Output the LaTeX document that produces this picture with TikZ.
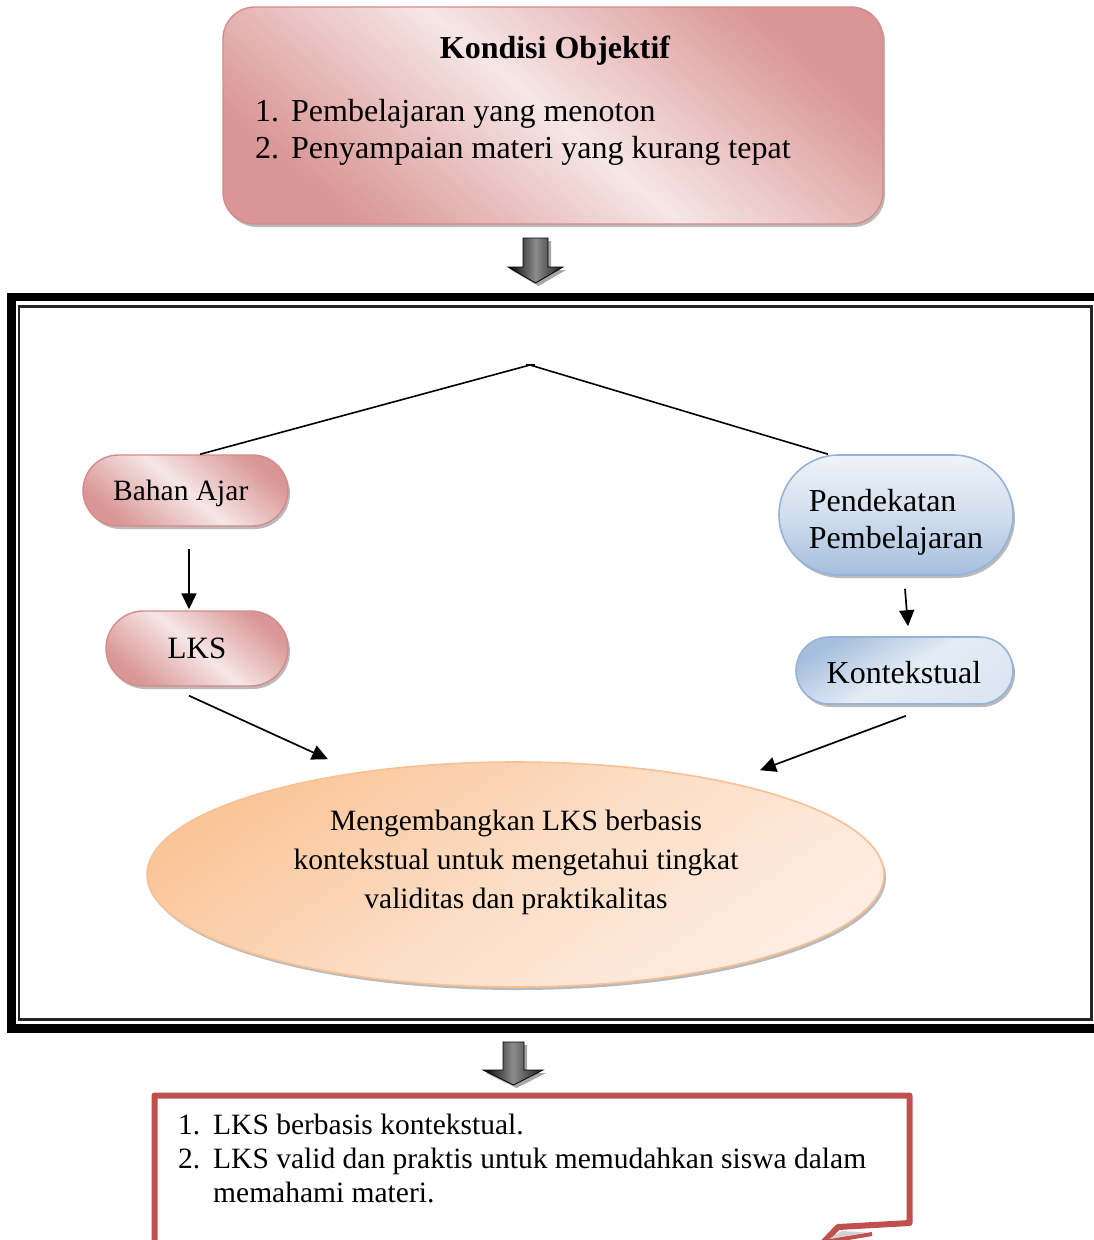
\documentclass[tikz,border=0pt]{standalone}
\usepackage{fontspec}
\setmainfont{Liberation Serif}
\usetikzlibrary{shapes.misc,shapes.geometric,shadows,arrows.meta}
\definecolor{pinkD}{HTML}{D99694}
\definecolor{pinkL}{HTML}{F6E6E6}
\definecolor{pinkB}{HTML}{D38C8B}
\definecolor{blueD}{HTML}{A7BFDE}
\definecolor{blueL}{HTML}{EEF3F9}
\definecolor{blueB}{HTML}{95B3D7}
\definecolor{orD}{HTML}{FAC090}
\definecolor{orL}{HTML}{FDEDE2}
\definecolor{orB}{HTML}{F7C194}
\definecolor{redB}{HTML}{C0504D}
\begin{document}
\begin{tikzpicture}[x=1pt,y=-1pt,
  fA/.style={font=\fontsize{32}{37}\selectfont},
  fB/.style={font=\fontsize{29.5}{34}\selectfont},
  fN/.style={font=\fontsize{31}{37}\selectfont},
  txt/.style={inner sep=0pt, anchor=base west},
  shad/.style={drop shadow={shadow xshift=2pt, shadow yshift=-3pt, opacity=.45, fill=black!60}},
  pinkbox/.style={draw=pinkB, line width=1.4pt, shad,
     top color=pinkD, bottom color=pinkD, middle color=pinkL, shading angle=-40, inner sep=0pt},
  bluebox/.style={shape=rounded rectangle, draw=blueB, line width=1.6pt, shad, inner sep=0pt},
  conn/.style={line width=1.7pt, -{Triangle[length=16pt,width=15pt]}},
  blockshade/.style={left color=black, right color=black!90, middle color=black!45},
  blockshadow/.style={fill=black!35}
]
\useasboundingbox (0,0) rectangle (1094,1240);
\clip (0,0) rectangle (1094,1240);
\fill[white] (0,0) rectangle (1094,1240);

% top box
\node[pinkbox, shape=rectangle, rounded corners=32pt, minimum width=660pt, minimum height=217pt] (kondisi) at (553,115.5) {};
\node[txt, anchor=base, font=\bfseries\fontsize{32}{37}\selectfont] (title) at (555,58) {Kondisi Objektif};
\node[txt, fA] (item1) at (255,121) {\makebox[36pt][l]{1.}Pembelajaran yang menoton};
\node[txt, fA] (item2) at (255,158) {\makebox[36pt][l]{2.}Penyampaian materi yang kurang tepat};

% block arrow 1
\fill[blockshadow, shift={(3,3)}] (523,238) -- (548,238) -- (548,267) -- (563,267) -- (535.5,283) -- (508,267) -- (523,267) -- cycle;
\shade[blockshade, draw=black, line width=0.8pt] (523,238) -- (548,238) -- (548,267) -- (563,267) -- (535.5,283) -- (508,267) -- (523,267) -- cycle;

% frame
\draw[line width=8.5pt] (11.5,297) rectangle (1100,1028.5);
\draw[line width=2.6pt, black!85] (18.8,306.3) rectangle (1091.7,1019.7);

% nodes
\coordinate (apex) at (530,365);
\node[pinkbox, shape=rounded rectangle, minimum width=205pt, minimum height=71pt] (bahan) at (185.5,490.5) {};
\node[txt, anchor=base west, font=\fontsize{29.5}{34}\selectfont] (bahantext) at (113,500) {Bahan Ajar};
\node[pinkbox, shape=rounded rectangle, minimum width=182pt, minimum height=75pt, fN] (lks) at (197,648.5) {LKS};
\node[bluebox, minimum width=234pt, minimum height=120pt, top color=blueL, bottom color=blueD!85!blueB, middle color=blueL!60!blueD] (pend) at (896,515) {};
\node[fA, align=left, inner sep=0pt] (pendtext) at (896,522) {Pendekatan\\Pembelajaran};
\node[bluebox, minimum width=217pt, minimum height=67pt, top color=blueD!90!blueB, bottom color=blueL!75!blueD, middle color=blueL!85!blueD, shading angle=30] (kont) at (904.5,670.5) {};
\node[fA, inner sep=0pt] (konttext) at (904,673) {Kontekstual};
\node[ellipse, draw=orB, line width=1.6pt, shad, minimum width=737pt, minimum height=225pt, inner sep=0pt,
  top color=orD!90!orL, bottom color=orL, middle color=orL!65!orD, shading angle=35] (ell) at (515.5,874.5) {};
\node[align=center, inner sep=0pt, font=\fontsize{29.5}{39}\selectfont] (elltext) at (516,862) {Mengembangkan LKS berbasis\\kontekstual untuk mengetahui tingkat\\validitas dan praktikalitas};

% connectors
\draw[line width=1.6pt] (apex) -- ([xshift=14.5pt]bahan.north);
\draw[line width=1.6pt] (apex) -- ([xshift=-68pt]pend.north);
\draw[line width=1.2pt] ([xshift=-4pt]apex) -- ([xshift=5pt]apex);
\draw[conn] ([xshift=3.5pt,yshift=-22pt]bahan.south) -- ([xshift=-8pt,yshift=1pt]lks.north);
\draw[conn] ([xshift=-8pt,yshift=-9pt]lks.south) -- ([xshift=-187.5pt,yshift=2pt]ell.north);
\draw[conn] ([xshift=9pt,yshift=-13pt]pend.south) -- ([xshift=3.5pt,yshift=10pt]kont.north);
\draw[conn] ([xshift=1.5pt,yshift=-11pt]kont.south) -- ([xshift=244.5pt,yshift=-9pt]ell.north);

% block arrow 2
\fill[blockshadow, shift={(3,3)}] (503,1042) -- (524,1042) -- (524,1070) -- (543,1070) -- (513.5,1085) -- (483,1070) -- (503,1070) -- cycle;
\shade[blockshade, draw=black, line width=0.8pt] (503,1042) -- (524,1042) -- (524,1070) -- (543,1070) -- (513.5,1085) -- (483,1070) -- (503,1070) -- cycle;

% bottom box
\draw[redB, line width=6pt, line join=round] (154.5,1250) -- (154.5,1095.5) -- (909.5,1095.5) -- (909.5,1223) -- (838,1227) -- (818,1248);
\fill[black!18] (842,1231) -- (866,1232.5) -- (829,1239) -- cycle;
\draw[redB, line width=4pt] (824,1242) -- (872,1234);
\node[txt, fB] (res1) at (178,1134) {\makebox[35pt][l]{1.}LKS berbasis kontekstual.};
\node[txt, fB] (res2) at (178,1168) {\makebox[35pt][l]{2.}LKS valid dan praktis untuk memudahkan siswa dalam};
\node[txt, fB] (res3) at (213,1202) {memahami materi.};
\end{tikzpicture}
\end{document}
